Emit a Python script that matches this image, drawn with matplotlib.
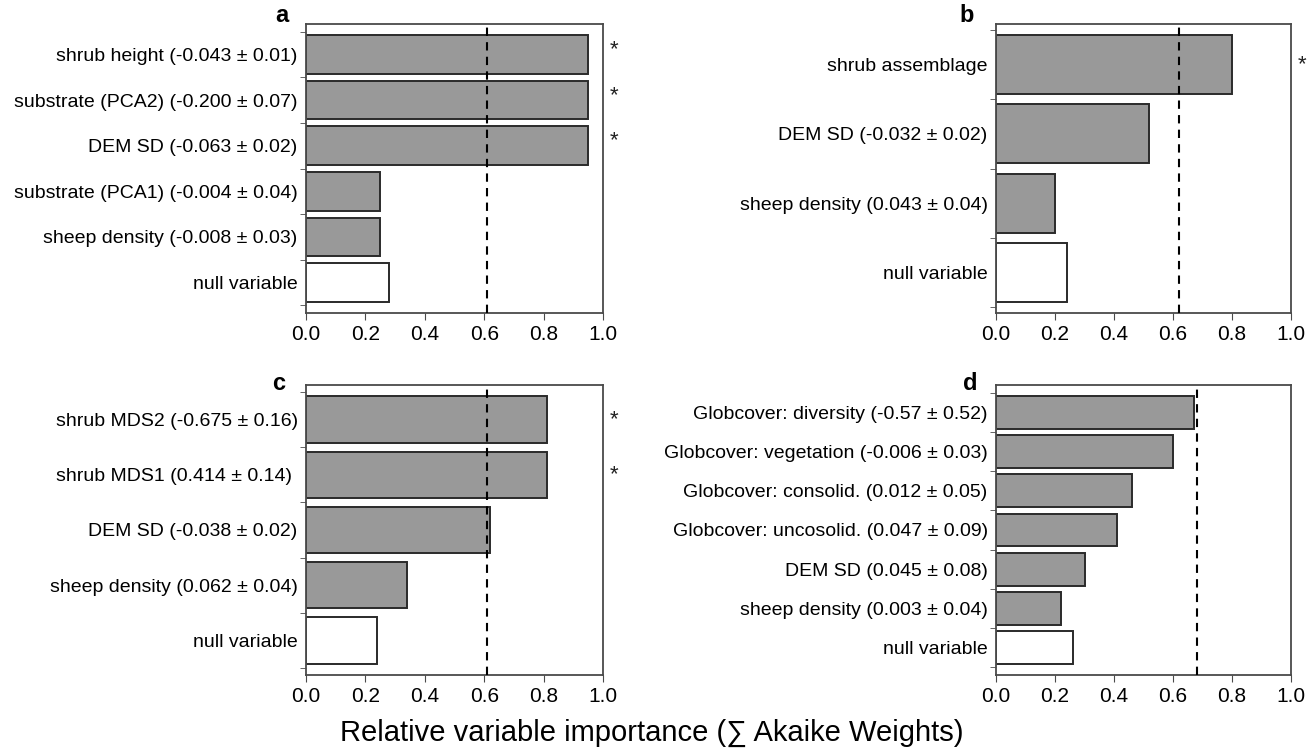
import matplotlib
matplotlib.use("Agg")
import matplotlib.pyplot as plt
import numpy as np

plt.rcParams['font.family'] = ['Liberation Sans', 'DejaVu Sans']

# ---------------- data ----------------
a_labels = ["shrub height (-0.043 ± 0.01)", "substrate (PCA2) (-0.200 ± 0.07)",
            "DEM SD (-0.063 ± 0.02)", "substrate (PCA1) (-0.004 ± 0.04)",
            "sheep density (-0.008 ± 0.03)", "null variable"]
a_values = [0.95, 0.95, 0.95, 0.25, 0.25, 0.28]
a_sig = [True, True, True, False, False, False]
a_threshold = 0.61

b_labels = ["shrub assemblage", "DEM SD (-0.032 ± 0.02)",
            "sheep density (0.043 ± 0.04)", "null variable"]
b_values = [0.80, 0.52, 0.20, 0.24]
b_sig = [True, False, False, False]
b_threshold = 0.62

c_labels = ["shrub MDS2 (-0.675 ± 0.16)", "shrub MDS1 (0.414 ± 0.14) ",
            "DEM SD (-0.038 ± 0.02)", "sheep density (0.062 ± 0.04)", "null variable"]
c_values = [0.81, 0.81, 0.62, 0.34, 0.24]
c_sig = [True, True, False, False, False]
c_threshold = 0.61

d_labels = ["Globcover: diversity (-0.57 ± 0.52)", "Globcover: vegetation (-0.006 ± 0.03)",
            "Globcover: consolid. (0.012 ± 0.05)", "Globcover: uncosolid. (0.047 ± 0.09)",
            "DEM SD (0.045 ± 0.08)", "sheep density (0.003 ± 0.04)", "null variable"]
d_values = [0.67, 0.60, 0.46, 0.41, 0.30, 0.22, 0.26]
d_sig = [False, False, False, False, False, False, False]
d_threshold = 0.68

x_ticks = [0.0, 0.2, 0.4, 0.6, 0.8, 1.0]
x_ticklabels = ["0.0", "0.2", "0.4", "0.6", "0.8", "1.0"]
panel_letters = ["a", "b", "c", "d"]
xlabel = "Relative variable importance (∑ Akaike Weights)"

# ---------------- layout ----------------
W, H = 1316, 751
fig = plt.figure(figsize=(W / 100, H / 100), dpi=100)

def px_axes(left, top, right, bottom):
    return fig.add_axes([left / W, 1 - bottom / H, (right - left) / W, (bottom - top) / H])

panels = [
    dict(box=(306, 24, 603, 313), labels=a_labels, values=a_values, sig=a_sig,
         thr=a_threshold, margin=0.665, bh=0.85, letter_xy=(282, 15), star_dy=-0.1),
    dict(box=(996, 24, 1291, 313), labels=b_labels, values=b_values, sig=b_sig,
         thr=b_threshold, margin=0.58, bh=0.85, letter_xy=(967, 16), star_dy=0.0),
    dict(box=(306, 385, 603, 675), labels=c_labels, values=c_values, sig=c_sig,
         thr=c_threshold, margin=0.625, bh=0.84, letter_xy=(279, 383), star_dy=0.0),
    dict(box=(996, 385, 1291, 675), labels=d_labels, values=d_values, sig=d_sig,
         thr=d_threshold, margin=0.705, bh=0.84, letter_xy=(970, 383), star_dy=0.0),
]

bar_gray = "#999999"
edge = "#2a2a2a"
spine_col = "#4a4a4a"

for p, letter in zip(panels, panel_letters):
    ax = px_axes(*p["box"])
    n = len(p["values"])
    y = np.arange(n)
    colors = [bar_gray] * (n - 1) + ["white"]
    ax.barh(y, p["values"], height=p["bh"], color=colors, edgecolor=edge, linewidth=1.4, zorder=2)
    ax.axvline(p["thr"], color="black", linestyle=(0, (4, 3)), linewidth=1.5, zorder=3)
    ax.set_xlim(0, 1.0)
    ax.set_ylim(n - 1 + p["margin"], -p["margin"])
    ax.set_yticks(y)
    ax.set_yticklabels(p["labels"], fontsize=14)
    ax.set_yticks(np.arange(-0.5, n, 1.0), minor=True)
    ax.tick_params(axis="y", which="major", length=0, pad=6)
    ax.tick_params(axis="y", which="minor", length=4, direction="out", color=spine_col)
    ax.set_xticks(x_ticks)
    ax.set_xticklabels(x_ticklabels, fontsize=15)
    ax.tick_params(axis="x", length=5, direction="out", color=spine_col, pad=4)
    for s in ax.spines.values():
        s.set_color(spine_col)
        s.set_linewidth(1.3)
    for yi, sg in zip(y, p["sig"]):
        if sg:
            ax.text(1.037, yi + p["star_dy"], "*", fontsize=16, ha="center", va="center",
                    transform=ax.get_yaxis_transform(), clip_on=False, color="#222222")
    lx, ly = p["letter_xy"]
    fig.text(lx / W, 1 - ly / H, letter, fontsize=17, fontweight="bold",
             ha="center", va="center")

fig.text(652 / W, 1 - 733 / H, xlabel, fontsize=21, ha="center", va="center")

fig.savefig("out.png", dpi=100)
